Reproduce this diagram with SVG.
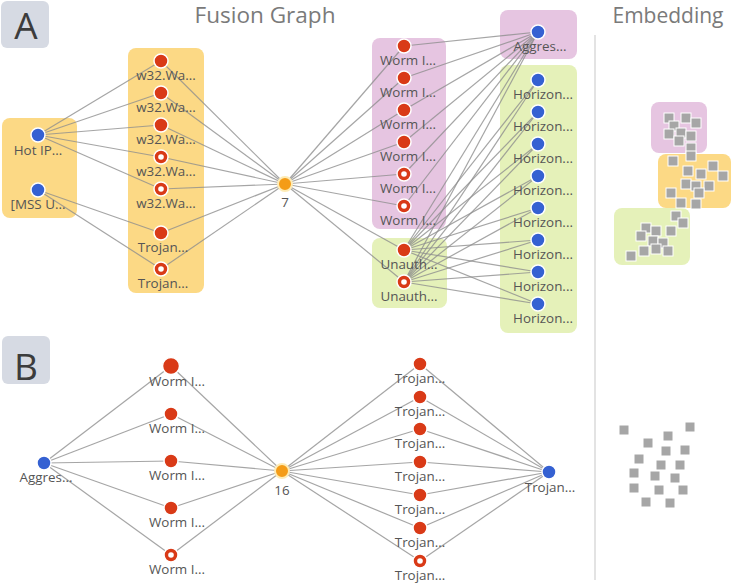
<svg xmlns="http://www.w3.org/2000/svg" width="732" height="585" viewBox="0 0 732 585">
<style>
.bg{fill:#ffffff}
.panel{fill:#d6dae3}
.plet{font-family:"Open Sans","Liberation Sans",sans-serif;font-size:37px;fill:#3c3c3c;text-anchor:middle}
.title{font-family:"Open Sans","Liberation Sans",sans-serif;font-size:21px;fill:#7a7a7a;text-anchor:middle}
.lbl{font-family:"Open Sans","Liberation Sans",sans-serif;font-size:13.4px;fill:#555555;text-anchor:middle}
.cy{fill:#fcd985}
.cp{fill:#e6c5e1}
.cg{fill:#e5f1b9}
.e line{stroke:#8f8f8f;stroke-width:1.2;stroke-opacity:0.8}
.r{fill:#d93a17;stroke:#ffffff;stroke-width:1.5}
.b{fill:#3561d2;stroke:#ffffff;stroke-width:1.5}
.o{fill:#f49c17;stroke:#fdebb5;stroke-width:2}
.h{fill:#ffffff}
.sq rect{fill:#a6a6a6;stroke:#ffffff;stroke-width:1;width:10px;height:10px}
</style>
<rect class="bg" x="0" y="0" width="732" height="585"/>

<g id="panel-labels">
<rect class="panel" x="1" y="1" width="48" height="47" rx="6"/>
<text class="plet" x="26" y="39">A</text>
<rect class="panel" x="2" y="336" width="48" height="48" rx="6"/>
<text class="plet" x="26" y="380">B</text>
<text class="title" x="265" y="23" textLength="141" lengthAdjust="spacingAndGlyphs">Fusion Graph</text>
<text class="title" x="668" y="23">Embedding</text>
<line x1="595" y1="35" x2="595" y2="580" stroke="#e3e3e3" stroke-width="2"/>
</g>

<g id="clusters">
<rect class="cy" x="2" y="118" width="75" height="100" rx="8"/>
<rect class="cy" x="128" y="48" width="76" height="245" rx="8"/>
<rect class="cp" x="372" y="38" width="74" height="191" rx="8"/>
<rect class="cg" x="372" y="238" width="75" height="70" rx="8"/>
<rect class="cp" x="500" y="10" width="77" height="49" rx="8"/>
<rect class="cg" x="500" y="65" width="77" height="268" rx="8"/>
</g>

<g id="edges" class="e">
<line x1="38" y1="135" x2="161" y2="61"/>
<line x1="38" y1="135" x2="161" y2="93"/>
<line x1="38" y1="135" x2="161" y2="125"/>
<line x1="38" y1="135" x2="161" y2="157"/>
<line x1="38" y1="135" x2="161" y2="189"/>
<line x1="38" y1="190" x2="161" y2="233"/>
<line x1="38" y1="190" x2="161" y2="269"/>
<line x1="161" y1="61" x2="285" y2="184"/>
<line x1="161" y1="93" x2="285" y2="184"/>
<line x1="161" y1="125" x2="285" y2="184"/>
<line x1="161" y1="157" x2="285" y2="184"/>
<line x1="161" y1="189" x2="285" y2="184"/>
<line x1="161" y1="233" x2="285" y2="184"/>
<line x1="161" y1="269" x2="285" y2="184"/>
<line x1="285" y1="184" x2="404" y2="46"/>
<line x1="285" y1="184" x2="404" y2="78"/>
<line x1="285" y1="184" x2="404" y2="110"/>
<line x1="285" y1="184" x2="404" y2="142"/>
<line x1="285" y1="184" x2="404" y2="174"/>
<line x1="285" y1="184" x2="404" y2="206"/>
<line x1="285" y1="184" x2="404" y2="250"/>
<line x1="285" y1="184" x2="404" y2="282"/>
<line x1="538" y1="32" x2="404" y2="46"/>
<line x1="538" y1="32" x2="404" y2="78"/>
<line x1="538" y1="32" x2="404" y2="110"/>
<line x1="538" y1="32" x2="404" y2="142"/>
<line x1="538" y1="32" x2="404" y2="174"/>
<line x1="538" y1="32" x2="404" y2="206"/>
<line x1="538" y1="32" x2="404" y2="250"/>
<line x1="538" y1="32" x2="404" y2="282"/>
<line x1="404" y1="250" x2="538" y2="80"/>
<line x1="404" y1="250" x2="538" y2="112"/>
<line x1="404" y1="250" x2="538" y2="144"/>
<line x1="404" y1="250" x2="538" y2="176"/>
<line x1="404" y1="250" x2="538" y2="208"/>
<line x1="404" y1="250" x2="538" y2="240"/>
<line x1="404" y1="250" x2="538" y2="272"/>
<line x1="404" y1="250" x2="538" y2="304"/>
<line x1="404" y1="282" x2="538" y2="80"/>
<line x1="404" y1="282" x2="538" y2="112"/>
<line x1="404" y1="282" x2="538" y2="144"/>
<line x1="404" y1="282" x2="538" y2="176"/>
<line x1="404" y1="282" x2="538" y2="208"/>
<line x1="404" y1="282" x2="538" y2="240"/>
<line x1="404" y1="282" x2="538" y2="272"/>
<line x1="404" y1="282" x2="538" y2="304"/>
<line x1="44" y1="463" x2="171" y2="366"/>
<line x1="44" y1="463" x2="171" y2="414"/>
<line x1="44" y1="463" x2="171" y2="461"/>
<line x1="44" y1="463" x2="171" y2="508"/>
<line x1="44" y1="463" x2="171" y2="555"/>
<line x1="171" y1="366" x2="282" y2="471"/>
<line x1="171" y1="414" x2="282" y2="471"/>
<line x1="171" y1="461" x2="282" y2="471"/>
<line x1="171" y1="508" x2="282" y2="471"/>
<line x1="171" y1="555" x2="282" y2="471"/>
<line x1="282" y1="471" x2="420" y2="364"/>
<line x1="282" y1="471" x2="420" y2="397"/>
<line x1="282" y1="471" x2="420" y2="429"/>
<line x1="282" y1="471" x2="420" y2="462"/>
<line x1="282" y1="471" x2="420" y2="495"/>
<line x1="282" y1="471" x2="420" y2="528"/>
<line x1="282" y1="471" x2="420" y2="561"/>
<line x1="420" y1="364" x2="549" y2="472"/>
<line x1="420" y1="397" x2="549" y2="472"/>
<line x1="420" y1="429" x2="549" y2="472"/>
<line x1="420" y1="462" x2="549" y2="472"/>
<line x1="420" y1="495" x2="549" y2="472"/>
<line x1="420" y1="528" x2="549" y2="472"/>
<line x1="420" y1="561" x2="549" y2="472"/>
</g>

<g id="a-hotip"><circle class="b" cx="38" cy="135" r="7"/><text class="lbl" x="38" y="155">Hot IP...</text></g>
<g id="a-mss"><circle class="b" cx="38" cy="190" r="7"/><text class="lbl" x="38" y="209">[MSS U...</text></g>

<g id="a-w1"><circle class="r" cx="161" cy="61" r="7"/><text class="lbl" x="166" y="80">w32.Wa...</text></g>
<g id="a-w2"><circle class="r" cx="161" cy="93" r="7"/><text class="lbl" x="166" y="112">w32.Wa...</text></g>
<g id="a-w3"><circle class="r" cx="161" cy="125" r="7"/><text class="lbl" x="166" y="144">w32.Wa...</text></g>
<g id="a-w4"><circle class="r" cx="161" cy="157" r="7"/><circle class="h" cx="161" cy="157" r="2.8"/><text class="lbl" x="166" y="176">w32.Wa...</text></g>
<g id="a-w5"><circle class="r" cx="161" cy="189" r="7"/><circle class="h" cx="161" cy="189" r="2.8"/><text class="lbl" x="166" y="208">w32.Wa...</text></g>
<g id="a-t1"><circle class="r" cx="161" cy="233" r="7"/><text class="lbl" x="163" y="252">Trojan...</text></g>
<g id="a-t2"><circle class="r" cx="161" cy="269" r="7"/><circle class="h" cx="161" cy="269" r="2.8"/><text class="lbl" x="163" y="288">Trojan...</text></g>

<g id="a-hub"><circle class="o" cx="285" cy="184" r="7"/><text class="lbl" x="285" y="207">7</text></g>

<g id="a-wm1"><circle class="r" cx="404" cy="46" r="7"/><text class="lbl" x="408" y="65">Worm I...</text></g>
<g id="a-wm2"><circle class="r" cx="404" cy="78" r="7"/><text class="lbl" x="408" y="97">Worm I...</text></g>
<g id="a-wm3"><circle class="r" cx="404" cy="110" r="7"/><text class="lbl" x="408" y="129">Worm I...</text></g>
<g id="a-wm4"><circle class="r" cx="404" cy="142" r="7"/><text class="lbl" x="408" y="161">Worm I...</text></g>
<g id="a-wm5"><circle class="r" cx="404" cy="174" r="7"/><circle class="h" cx="404" cy="174" r="2.8"/><text class="lbl" x="408" y="193">Worm I...</text></g>
<g id="a-wm6"><circle class="r" cx="404" cy="206" r="7"/><circle class="h" cx="404" cy="206" r="2.8"/><text class="lbl" x="408" y="225">Worm I...</text></g>
<g id="a-u1"><circle class="r" cx="404" cy="250" r="7"/><text class="lbl" x="409" y="269">Unauth...</text></g>
<g id="a-u2"><circle class="r" cx="404" cy="282" r="7"/><circle class="h" cx="404" cy="282" r="2.8"/><text class="lbl" x="409" y="301">Unauth...</text></g>

<g id="a-ag"><circle class="b" cx="538" cy="32" r="7"/><text class="lbl" x="540" y="51">Aggres...</text></g>
<g id="a-h1"><circle class="b" cx="538" cy="80" r="7"/><text class="lbl" x="543" y="99">Horizon...</text></g>
<g id="a-h2"><circle class="b" cx="538" cy="112" r="7"/><text class="lbl" x="543" y="131">Horizon...</text></g>
<g id="a-h3"><circle class="b" cx="538" cy="144" r="7"/><text class="lbl" x="543" y="163">Horizon...</text></g>
<g id="a-h4"><circle class="b" cx="538" cy="176" r="7"/><text class="lbl" x="543" y="195">Horizon...</text></g>
<g id="a-h5"><circle class="b" cx="538" cy="208" r="7"/><text class="lbl" x="543" y="227">Horizon...</text></g>
<g id="a-h6"><circle class="b" cx="538" cy="240" r="7"/><text class="lbl" x="543" y="259">Horizon...</text></g>
<g id="a-h7"><circle class="b" cx="538" cy="272" r="7"/><text class="lbl" x="543" y="291">Horizon...</text></g>
<g id="a-h8"><circle class="b" cx="538" cy="304" r="7"/><text class="lbl" x="543" y="323">Horizon...</text></g>

<g id="b-ag"><circle class="b" cx="44" cy="463" r="7"/><text class="lbl" x="46" y="482">Aggres...</text></g>
<g id="b-w1"><circle class="r" cx="171" cy="366" r="8.5"/><text class="lbl" x="177" y="386">Worm I...</text></g>
<g id="b-w2"><circle class="r" cx="171" cy="414" r="7"/><text class="lbl" x="177" y="433">Worm I...</text></g>
<g id="b-w3"><circle class="r" cx="171" cy="461" r="7"/><text class="lbl" x="177" y="480">Worm I...</text></g>
<g id="b-w4"><circle class="r" cx="171" cy="508" r="7"/><text class="lbl" x="177" y="527">Worm I...</text></g>
<g id="b-w5"><circle class="r" cx="171" cy="555" r="7"/><circle class="h" cx="171" cy="555" r="2.8"/><text class="lbl" x="177" y="574">Worm I...</text></g>
<g id="b-hub"><circle class="o" cx="282" cy="471" r="7"/><text class="lbl" x="282" y="495">16</text></g>
<g id="b-t1"><circle class="r" cx="420" cy="364" r="7"/><text class="lbl" x="420" y="383">Trojan...</text></g>
<g id="b-t2"><circle class="r" cx="420" cy="397" r="7"/><text class="lbl" x="420" y="416">Trojan...</text></g>
<g id="b-t3"><circle class="r" cx="420" cy="429" r="7"/><text class="lbl" x="420" y="448">Trojan...</text></g>
<g id="b-t4"><circle class="r" cx="420" cy="462" r="7"/><text class="lbl" x="420" y="481">Trojan...</text></g>
<g id="b-t5"><circle class="r" cx="420" cy="495" r="7"/><text class="lbl" x="420" y="514">Trojan...</text></g>
<g id="b-t6"><circle class="r" cx="420" cy="528" r="7"/><text class="lbl" x="420" y="547">Trojan...</text></g>
<g id="b-t7"><circle class="r" cx="420" cy="561" r="7"/><circle class="h" cx="420" cy="561" r="2.8"/><text class="lbl" x="420" y="580">Trojan...</text></g>
<g id="b-tr"><circle class="b" cx="549" cy="472" r="7"/><text class="lbl" x="550" y="492">Trojan...</text></g>

<g id="embedding-a">
<rect class="cp" x="651" y="102" width="56" height="51" rx="8"/>
<rect class="cy" x="658" y="154" width="73" height="54" rx="8"/>
<rect class="cg" x="614" y="208" width="76" height="57" rx="8"/>
<g class="sq">
<rect x="664" y="113"/><rect x="681" y="113"/><rect x="669" y="121"/><rect x="691" y="118"/>
<rect x="664" y="129"/><rect x="676" y="128"/><rect x="686" y="131"/><rect x="674" y="136"/><rect x="686" y="143"/>
<rect x="668" y="156"/><rect x="686" y="151"/>
<rect x="683" y="166"/><rect x="708" y="161"/><rect x="718" y="171"/><rect x="696" y="169"/>
<rect x="681" y="179"/><rect x="691" y="181"/><rect x="704" y="181"/><rect x="666" y="188"/><rect x="694" y="188"/>
<rect x="676" y="198"/><rect x="691" y="199"/>
<rect x="671" y="211"/><rect x="678" y="218"/><rect x="641" y="223"/><rect x="651" y="226"/><rect x="666" y="226"/>
<rect x="636" y="231"/><rect x="648" y="236"/><rect x="658" y="238"/><rect x="651" y="244"/><rect x="663" y="246"/>
<rect x="639" y="246"/><rect x="626" y="251"/>
</g>
</g>

<g id="embedding-b" class="sq">
<rect x="619" y="425"/><rect x="685" y="422"/><rect x="663" y="431"/><rect x="643" y="438"/>
<rect x="661" y="446"/><rect x="680" y="445"/><rect x="634" y="454"/><rect x="656" y="460"/>
<rect x="675" y="460"/><rect x="629" y="468"/><rect x="650" y="471"/><rect x="670" y="473"/>
<rect x="629" y="483"/><rect x="654" y="485"/><rect x="678" y="485"/><rect x="641" y="497"/><rect x="665" y="498"/>
</g>
</svg>
